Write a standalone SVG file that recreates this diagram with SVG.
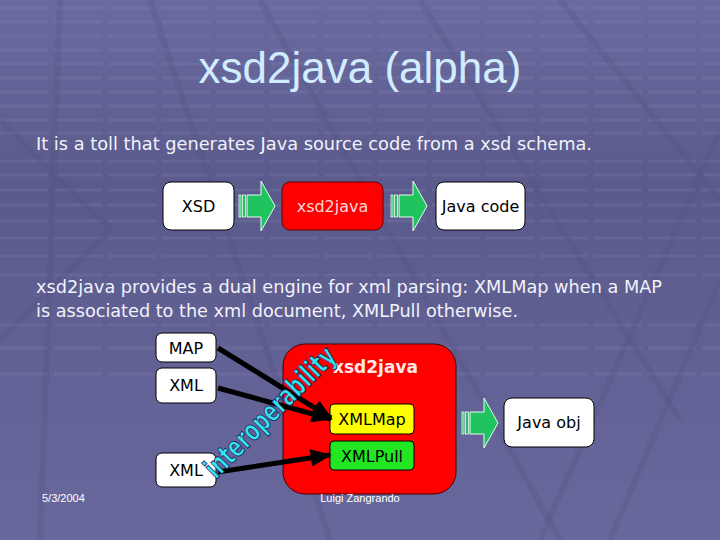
<svg xmlns="http://www.w3.org/2000/svg" width="720" height="540" viewBox="0 0 720 540">
<style>
.box{fill:#ffffff;stroke:#000;stroke-width:1}
.lbl{font-family:"DejaVu Sans",Verdana,sans-serif;font-size:16px;fill:#000;text-anchor:middle}
.body{font-family:"DejaVu Sans",Verdana,sans-serif;font-size:18px;fill:#f2f2fa}
.foot{font-family:"Liberation Sans",Arial,sans-serif;font-size:11px;fill:#ffffff}
.hl{stroke:#8a8ab8;stroke-width:3;stroke-opacity:0.22}
.dg{stroke:#4e4e80;stroke-width:6;stroke-opacity:0.25;fill:none}
.lk{stroke:#000;stroke-width:5;fill:none;marker-end:url(#ah)}
</style>
<defs>
<linearGradient id="bg" x1="0" y1="0" x2="0" y2="1">
<stop offset="0" stop-color="#6a6aa0"/>
<stop offset="0.35" stop-color="#5a5a8c"/>
<stop offset="0.7" stop-color="#626296"/>
<stop offset="1" stop-color="#68689c"/>
</linearGradient>
<g id="garrow">
<rect x="0" y="-11" width="2" height="22" fill="#1fc45f" stroke="#e8fff0" stroke-width="0.8"/>
<rect x="3.5" y="-11" width="3" height="22" fill="#1fc45f" stroke="#e8fff0" stroke-width="0.8"/>
<polygon points="8,-11 22,-11 22,-25 36,0 22,25 22,11 8,11" fill="#1fc45f" stroke="#e8fff0" stroke-width="1"/>
</g>
<marker id="ah" viewBox="0 0 12 10" refX="11" refY="5" markerWidth="4.5" markerHeight="3.5" orient="auto" markerUnits="strokeWidth">
<path d="M0,0 L12,5 L0,10 z" fill="#000"/>
</marker>
</defs>
<rect width="720" height="540" fill="url(#bg)"/>
<g id="background-grid">
<g class="hl" stroke-dasharray="48,6">
<line x1="0" y1="8" x2="720" y2="8"/>
<line x1="0" y1="22" x2="720" y2="22"/>
<line x1="0" y1="36" x2="720" y2="36"/>
<line x1="0" y1="50" x2="720" y2="50"/>
<line x1="0" y1="64" x2="720" y2="64"/>
<line x1="0" y1="78" x2="720" y2="78"/>
<line x1="0" y1="92" x2="720" y2="92"/>
<line x1="0" y1="106" x2="720" y2="106"/>
<line x1="0" y1="120" x2="720" y2="120"/>
<line x1="0" y1="133" x2="720" y2="133"/>
<line x1="0" y1="161" x2="720" y2="161"/>
<line x1="0" y1="175" x2="720" y2="175"/>
<line x1="0" y1="190" x2="720" y2="190"/>
<line x1="0" y1="205" x2="720" y2="205"/>
<line x1="0" y1="221" x2="720" y2="221"/>
<line x1="0" y1="238" x2="720" y2="238"/>
<line x1="0" y1="256" x2="720" y2="256"/>
<line x1="0" y1="275" x2="720" y2="275"/>
<line x1="0" y1="325" x2="720" y2="325"/>
<line x1="0" y1="348" x2="720" y2="348"/>
<line x1="0" y1="374" x2="720" y2="374"/>
</g>
<path class="dg" d="M0,120 L110,230 L0,340"/>
<path class="dg" d="M150,0 L330,540"/>
<path class="dg" d="M60,0 L40,540"/>
<path class="dg" d="M260,0 L560,540"/>
<path class="dg" d="M420,0 L680,420"/>
<path class="dg" d="M560,0 L720,200"/>
<path class="dg" d="M720,280 L610,540"/>
<path class="dg" d="M720,130 L540,540"/>
</g>
<text x="360" y="83" text-anchor="middle" font-family="Liberation Sans,Arial,sans-serif" font-size="44" fill="#d2ecff">xsd2java (alpha)</text>
<text class="body" x="36" y="150" textLength="556" lengthAdjust="spacingAndGlyphs">It is a toll that generates Java source code from a xsd schema.</text>
<text class="body" x="36" y="293" textLength="626" lengthAdjust="spacingAndGlyphs">xsd2java provides a dual engine for xml parsing: XMLMap when a MAP</text>
<text class="body" x="36" y="317" textLength="482" lengthAdjust="spacingAndGlyphs">is associated to the xml document, XMLPull otherwise.</text>
<g id="connectors">
<use href="#garrow" transform="translate(239,206)"/>
<use href="#garrow" transform="translate(391,206)"/>
<use href="#garrow" transform="translate(462,423)"/>
</g>
<g id="node-xsd"><rect class="box" x="163" y="182" width="71" height="48" rx="8"/><text class="lbl" x="198.5" y="212">XSD</text></g>
<g id="node-xsd2java"><rect x="282" y="182" width="101" height="48" rx="8" fill="#ff0000" stroke="#600" stroke-width="1"/><text class="lbl" x="332.5" y="212" style="fill:#ffd8d8">xsd2java</text></g>
<g id="node-javacode"><rect class="box" x="436" y="182" width="89" height="48" rx="8"/><text class="lbl" x="480.5" y="212">Java code</text></g>
<g id="node-engine"><rect x="283" y="344" width="173" height="150" rx="22" fill="#ff0000" stroke="#400" stroke-width="1"/><text x="333" y="373" font-family="DejaVu Sans,Verdana,sans-serif" font-weight="bold" font-size="17" fill="#ffe8e8">xsd2java</text></g>
<g id="node-xmlmap"><rect x="330" y="404" width="84" height="30" rx="4" fill="#ffff00" stroke="#000" stroke-width="1"/><text class="lbl" x="372" y="425">XMLMap</text></g>
<g id="node-xmlpull"><rect x="330" y="441" width="84" height="29" rx="4" fill="#22e622" stroke="#000" stroke-width="1"/><text class="lbl" x="372" y="462">XMLPull</text></g>
<g id="node-map"><rect class="box" x="156" y="333" width="60" height="29" rx="6"/><text class="lbl" x="186" y="354">MAP</text></g>
<g id="node-xml1"><rect class="box" x="156" y="368" width="60" height="35" rx="6"/><text class="lbl" x="186" y="391">XML</text></g>
<g id="node-xml2"><rect class="box" x="156" y="453" width="60" height="34" rx="6"/><text class="lbl" x="186" y="476">XML</text></g>
<g id="node-javaobj"><rect class="box" x="504" y="398" width="90" height="49" rx="8"/><text class="lbl" x="549" y="428">Java obj</text></g>
<g id="links">
<line class="lk" x1="218" y1="348" x2="331" y2="418"/>
<line class="lk" x1="218" y1="388" x2="331" y2="419"/>
<line class="lk" x1="218" y1="472" x2="330" y2="455"/>
</g>
<text transform="translate(216,480) rotate(-45)" font-family="DejaVu Sans Condensed,DejaVu Sans,sans-serif" font-weight="bold" font-size="29" fill="#33e6f0" stroke="#202060" stroke-width="0.9" textLength="172" lengthAdjust="spacingAndGlyphs">interoperability</text>
<text class="foot" x="42" y="502">5/3/2004</text>
<text class="foot" x="360" y="502" text-anchor="middle">Luigi Zangrando</text>
</svg>
